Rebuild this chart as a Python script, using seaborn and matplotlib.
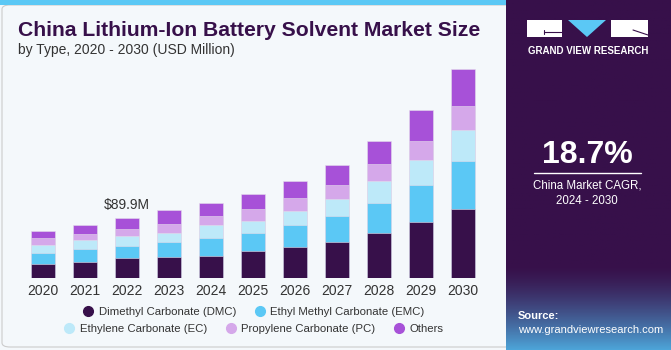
import numpy as np
import pandas as pd
import matplotlib
matplotlib.use('Agg')
import matplotlib.pyplot as plt
import seaborn as sns
from matplotlib.patches import Rectangle, Polygon, FancyBboxPatch
from matplotlib.lines import Line2D

# %%
years = ['2020', '2021', '2022', '2023', '2024', '2025', '2026', '2027', '2028', '2029', '2030']
dmc = [21.2, 24.6, 29.7, 32.0, 33.5, 40.5, 46.0, 53.8, 67.6, 83.9, 102.8]
emc = [16.8, 18.4, 18.7, 22.2, 25.8, 27.1, 33.1, 38.6, 43.6, 54.4, 71.6]
ec = [11.0, 13.8, 14.8, 13.3, 19.3, 17.8, 20.8, 25.7, 32.6, 36.6, 45.5]
pc = [11.3, 8.9, 10.4, 13.3, 13.8, 16.9, 19.7, 20.8, 26.1, 29.1, 36.0]
others = [9.9, 13.3, 16.3, 19.9, 18.8, 22.7, 24.8, 29.2, 34.1, 45.5, 54.0]

segments = ['Dimethyl Carbonate (DMC)', 'Ethyl Methyl Carbonate (EMC)',
            'Ethylene Carbonate (EC)', 'Propylene Carbonate (PC)', 'Others']
colors = ['#37104A', '#5BC8F5', '#BDE9F9', '#D5A8EA', '#A751D8']

df = pd.DataFrame({'Year': years, segments[0]: dmc, segments[1]: emc,
                   segments[2]: ec, segments[3]: pc, segments[4]: others})
cum = df[segments].cumsum(axis=1)

W, H = 671, 350
bg = '#F4F8FB'


def fx(x):
    return x / W


def fy(y):
    return 1 - y / H


# %%
sns.set_style('white')
plt.rcParams['font.family'] = ['Liberation Sans', 'DejaVu Sans']
fig = plt.figure(figsize=(W / 100, H / 100), dpi=100)
fig.patch.set_facecolor(bg)

# card border and top stripe
fig.patches.append(FancyBboxPatch((fx(2), fy(347)), fx(520), (347 - 5) / H,
                                  boxstyle='round,pad=0,rounding_size=0.012', transform=fig.transFigure,
                                  facecolor=bg, edgecolor='#CCCCCC', linewidth=0.8, zorder=-2))
fig.patches.append(Rectangle((0, fy(5)), fx(506), 5 / H, transform=fig.transFigure,
                             facecolor='#5BC8F5', edgecolor='none', zorder=-1))

# chart
ax = fig.add_axes([fx(22), fy(278.3), fx(462), 215.8 / H])
ax.set_facecolor('none')
for i in range(len(segments) - 1, -1, -1):
    sns.barplot(x=df['Year'], y=cum[segments[i]], color=colors[i], width=0.59,
                saturation=1, edgecolor='#E4DDEB', linewidth=0.4, ax=ax)
ax.set_ylim(0, 320)
ax.set_xlim(-0.5, 10.5)
ax.set_xlabel('')
ax.set_ylabel('')
ax.set_yticks([])
sns.despine(ax=ax, left=True, bottom=True)
ax.tick_params(axis='x', length=0, pad=4, labelsize=10, labelcolor='#333333')
ax.text(2, cum[segments[-1]][2] + 8, '$89.9M', ha='center', va='bottom', fontsize=10, color='#333333')

# titles
fig.text(fx(18), fy(30), 'China Lithium-Ion Battery Solvent Market Size', fontsize=15.2,
         fontweight='bold', color='#37104A', va='center', ha='left')
fig.text(fx(18), fy(50), 'by Type, 2020 - 2030 (USD Million)', fontsize=10,
         color='#333333', va='center', ha='left')

# legend
handles = [Line2D([], [], marker='o', linestyle='', markersize=7, color=c) for c in colors]
leg1 = fig.legend(handles[:2], segments[:2], loc='center', bbox_to_anchor=(fx(253), fy(312)),
                  ncol=2, frameon=False, fontsize=8.2, handletextpad=0.3, columnspacing=1.5,
                  handlelength=1.2, labelcolor='#333333')
leg2 = fig.legend(handles[2:], segments[2:], loc='center', bbox_to_anchor=(fx(253), fy(329)),
                  ncol=3, frameon=False, fontsize=8.2, handletextpad=0.3, columnspacing=1.5,
                  handlelength=1.2, labelcolor='#333333')

# right panel
side = fig.add_axes([fx(506), 0, fx(165), 1])
grad = np.linspace(0, 1, 256)
c0 = np.array(matplotlib.colors.to_rgb('#37104A'))
c1 = np.array(matplotlib.colors.to_rgb('#4DA4D8'))
t = np.clip((grad - 0.76) / 0.24, 0, 1) ** 1.4
img = c0[None, :] * (1 - t[:, None]) + c1[None, :] * t[:, None]
side.imshow(img[:, None, :], aspect='auto', extent=[0, 1, 1, 0])
side.set_xlim(0, 1)
side.set_ylim(1, 0)
side.axis('off')

# logo
fig.patches.append(Rectangle((fx(527), fy(37)), fx(35), 17 / H, transform=fig.transFigure,
                             facecolor='white', edgecolor='none', zorder=3))
fig.patches.append(Rectangle((fx(611), fy(37)), fx(37), 17 / H, transform=fig.transFigure,
                             facecolor='white', edgecolor='none', zorder=3))
fig.patches.append(Polygon([(fx(568), fy(20)), (fx(606), fy(20)), (fx(587), fy(37))],
                           transform=fig.transFigure, facecolor='#5BC8F5', edgecolor='none', zorder=3))
for xs, ys in [([544, 562], [32, 32]), ([544, 544], [30, 34]), ([633, 648], [30, 35])]:
    fig.lines.append(Line2D([fx(v) for v in xs], [fy(v) for v in ys], transform=fig.transFigure,
                            color='#37104A', linewidth=0.8, zorder=4))
fig.text(fx(588), fy(51), 'GRAND VIEW RESEARCH', fontsize=7, fontweight='bold', color='white',
         ha='center', va='center')

fig.text(fx(587), fy(155), '18.7%', fontsize=23, fontweight='bold', color='white',
         ha='center', va='center')
fig.lines.append(Line2D([fx(534), fx(641)], [fy(173), fy(173)], transform=fig.transFigure,
                        color='white', linewidth=1))
fig.text(fx(587), fy(185), 'China Market CAGR,', fontsize=8.3, color='white', ha='center', va='center')
fig.text(fx(587), fy(201), '2024 - 2030', fontsize=8.3, color='white', ha='center', va='center')
fig.text(fx(518), fy(316), 'Source:', fontsize=8, fontweight='bold', color='white', ha='left', va='center')
fig.text(fx(518), fy(330), 'www.grandviewresearch.com', fontsize=8, color='white', ha='left', va='center')

fig.savefig('out.png', dpi=100, facecolor=bg)
